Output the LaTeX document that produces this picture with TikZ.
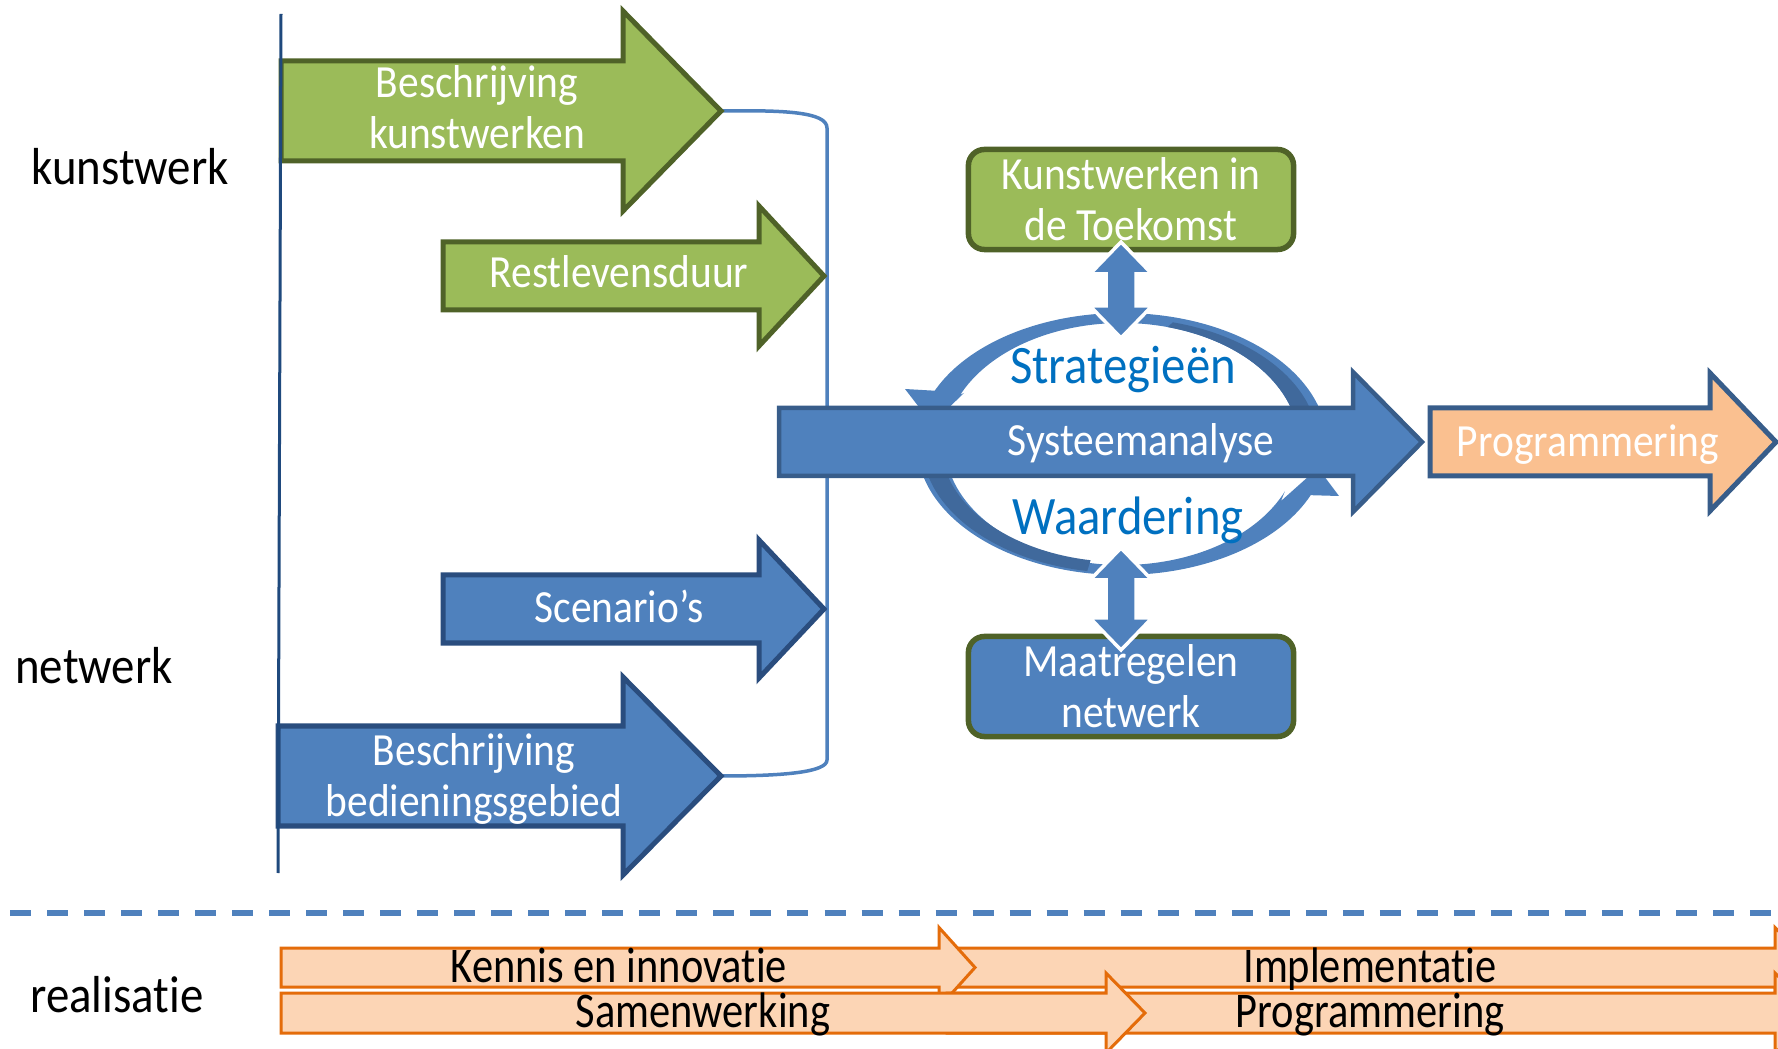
\documentclass[tikz,border=0pt]{standalone}
\usepackage{fontspec}
\setmainfont{Carlito}[FakeStretch=0.9, Ligatures=NoCommon]
\newfontfamily\condfont{Carlito}[FakeStretch=0.85, Ligatures=NoCommon]
\usetikzlibrary{arrows.meta,calc}

\definecolor{grnfill}{HTML}{9BBB59}
\definecolor{grnline}{HTML}{4F6228}
\definecolor{bluefill}{HTML}{4F81BD}
\definecolor{blueline}{HTML}{385D8A}
\definecolor{navyline}{HTML}{2A4D7E}
\definecolor{bluedark}{HTML}{40699C}
\definecolor{axisblue}{HTML}{1F497D}
\definecolor{peach}{HTML}{FAC090}
\definecolor{lightpeach}{HTML}{FCD5B5}
\definecolor{orangeline}{HTML}{E46C0A}
\definecolor{textblue}{HTML}{0070C0}

% block arrow: [style]{tip name}{left x}{mid y}{half body}{head x}{half head}{tip x}
\newcommand{\blockarrow}[8][]{%
  \draw[#1] (#3,#4-#5) -- (#6,#4-#5) -- (#6,#4-#7) -- (#8,#4)
    -- (#6,#4+#7) -- (#6,#4+#5) -- (#3,#4+#5) -- cycle;
  \coordinate (#2) at (#8,#4);}

% up-down arrow between two named tips
\newcommand{\dblvarrow}[3][]{%
  \draw[#1] (#2) -- ($(#2)+(31,32)$) -- ($(#2)+(15,32)$) -- ($(#3)+(15,-32)$)
    -- ($(#3)+(31,-32)$) -- (#3) -- ($(#3)+(-31,-32)$) -- ($(#3)+(-15,-32)$)
    -- ($(#2)+(-15,32)$) -- ($(#2)+(-31,32)$) -- cycle;}

\begin{document}
\begin{tikzpicture}[x=0.01cm, y=-0.01cm,
  greenarrow/.style={fill=grnfill, draw=grnline, line width=0.05cm},
  bluearrow/.style={fill=bluefill, draw=navyline, line width=0.05cm},
  midarrow/.style={fill=bluefill, draw=blueline, line width=0.045cm},
  progarrow/.style={fill=peach, draw=blueline, line width=0.05cm},
  realarrow/.style={fill=lightpeach, draw=orangeline, line width=0.03cm},
  boxtext/.style={text=white, inner sep=0pt, align=center,
    font=\fontsize{13.1}{14.5}\selectfont},
  greenbox/.style={boxtext, fill=grnfill, draw=grnline, line width=0.055cm,
    rounded corners=0.16cm, minimum width=3.25cm, minimum height=1.0cm},
  bluebox/.style={greenbox, fill=bluefill},
  ring/.style={fill=bluefill},
  ringshade/.style={fill=bluedark},
  dblarrow/.style={fill=bluefill, draw=white, line width=0.035cm},
  ringtext/.style={text=textblue, inner sep=0pt, anchor=base,
    font=\fontsize{15.4}{17}\selectfont},
  sidelabel/.style={inner sep=0pt, anchor=base, font=\fontsize{14.8}{16}\selectfont},
  realtext/.style={inner sep=0pt, anchor=base, font=\condfont\fontsize{14.2}{15}\selectfont},
  axisline/.style={draw=axisblue, line width=0.03cm},
  bracket/.style={draw=bluefill, line width=0.035cm},
  divider/.style={draw=bluefill, line width=0.05cm, dash pattern=on 0.21cm off 0.16cm}]

\useasboundingbox (0,0) rectangle (1778,1049);
\clip (0,0) rectangle (1778,1049);

% inputs
\coordinate (bk) at (721,111);
\coordinate (bd) at (721,776);
\draw[bracket] (bk) .. controls (785,110) and (827,112) .. (827,128)
  -- (827,760) .. controls (827,772) and (785,776) .. (bd);
\blockarrow[greenarrow]{bk}{281}{111}{50}{623}{100}{721}
\blockarrow[greenarrow]{rl}{443}{276}{34}{759}{70}{824}
\blockarrow[bluearrow]{sc}{443}{609}{34}{759}{69}{824}
\blockarrow[bluearrow]{bd}{278}{776}{50}{623}{99}{721}
\node[boxtext] (bk-text) at (477,107.5) {Beschrijving\\kunstwerken};
\node[boxtext, anchor=base] (rl-text) at (619,288) {Restlevensduur};
\node[boxtext, anchor=base] (sc-text) at (619,623) {Scenario’s};
\node[boxtext] (bd-text) at (474,779) {Beschrijving\\bedieningsgebied};

\coordinate (axis-top) at (281,14);
\coordinate (axis-bot) at (278,873);
\draw[axisline] (axis-top) -- (axis-bot);

% cycle round the analysis
\begin{scope}[shift={(1122,444)}]
  \fill[ring] ({205*cos(8)},{131*sin(8)})
    arc[start angle=8, end angle=-156, x radius=205, y radius=131]
    -- (-217,-55) -- (-190,-20) -- (-158,-51)
    -- ({177*cos(-156)},{121*sin(-156)})
    arc[start angle=-156, end angle=8, x radius=177, y radius=121] -- cycle;
  \fill[ring] ({205*cos(172)},{131*sin(172)})
    arc[start angle=172, end angle=23, x radius=205, y radius=131]
    -- (217,52) -- (196,24) -- (159,57)
    -- ({177*cos(23)},{121*sin(23)})
    arc[start angle=23, end angle=172, x radius=177, y radius=121] -- cycle;
  \fill[ringshade] ({177*cos(6)},{121*sin(6)})
    arc[start angle=6, end angle=-75, x radius=177, y radius=121]
    -- ({196*cos(-75)},{126*sin(-75)})
    arc[start angle=-75, end angle=6, x radius=196, y radius=126] -- cycle;
  \fill[ringshade] ({181*cos(172)},{118*sin(172)})
    arc[start angle=172, end angle=100, x radius=181, y radius=118]
    -- ({200*cos(100)},{129*sin(100)})
    arc[start angle=100, end angle=172, x radius=200, y radius=129] -- cycle;
\end{scope}

\blockarrow[midarrow]{sa}{779}{442}{34}{1353}{70}{1422}
\node[boxtext, anchor=base] (sa-text) at (1141,456) {Systeemanalyse};
\blockarrow[progarrow]{pg}{1430}{442}{34}{1710}{69}{1776}
\node[boxtext, anchor=base] (pg-text) at (1588,457) {Programmering};

\node[greenbox] (toekomst) at (1131,199.5) {Kunstwerken in\\de Toekomst};
\node[bluebox] (maatregel) at (1131,686.5) {Maatregelen\\netwerk};

\coordinate (st-a) at (1121,242);
\coordinate (st-b) at (1121,338);
\coordinate (wa-a) at (1121,548);
\coordinate (wa-b) at (1121,650);
\dblvarrow[dblarrow]{st-a}{st-b}
\dblvarrow[dblarrow]{wa-a}{wa-b}

\node[ringtext] (strat) at (1123,384) {Strategieën};
\node[ringtext] (waard) at (1128,535) {Waardering};

% side labels
\node[sidelabel] (lab-kw) at (130,185) {kunstwerk};
\node[sidelabel] (lab-nw) at (94,684) {netwerk};
\node[sidelabel] (lab-re) at (117,1012) {realisatie};

\coordinate (div-l) at (10,913);
\coordinate (div-r) at (1778,913);
\draw[divider] (div-l) -- (div-r);

% realisatie
\blockarrow[realarrow]{im}{950}{967.5}{19.5}{1775}{40}{1815}
\blockarrow[realarrow]{ki}{281}{967.5}{19.5}{939}{40}{975}
\blockarrow[realarrow]{pr}{947}{1013}{20}{1775}{40}{1815}
\blockarrow[realarrow]{sw}{281}{1013}{20}{1106}{40}{1145}
\node[realtext] (ki-text) at (619,982) {Kennis en innovatie};
\node[realtext] (im-text) at (1370,982) {Implementatie};
\node[realtext] (sw-text) at (703,1027) {Samenwerking};
\node[realtext] (pr-text) at (1370,1027) {Programmering};
\end{tikzpicture}
\end{document}
